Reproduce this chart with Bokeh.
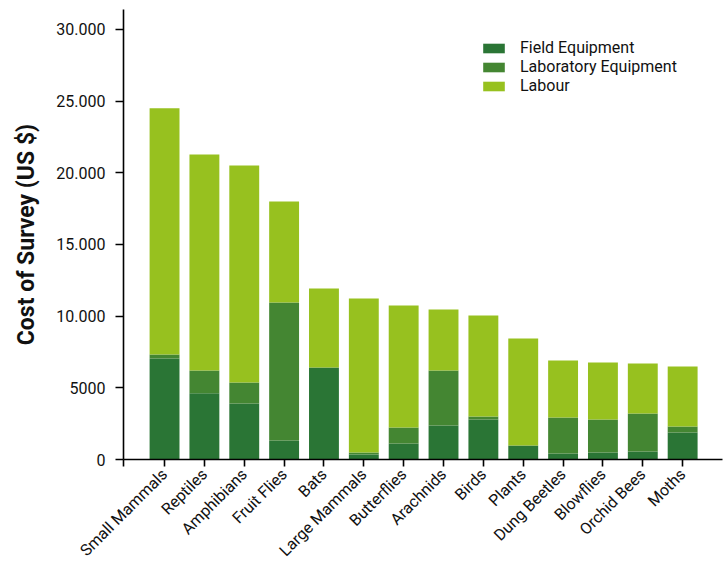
from bokeh.plotting import figure
from bokeh.models import ColumnDataSource, Range1d, FixedTicker
from bokeh.embed import file_html
from bokeh.resources import INLINE
import math

categories = ["Small Mammals", "Reptiles", "Amphibians", "Fruit Flies", "Bats",
              "Large Mammals", "Butterflies", "Arachnids", "Birds", "Plants",
              "Dung Beetles", "Blowflies", "Orchid Bees", "Moths"]
field_equipment = [7050, 4630, 3910, 1330, 6420, 350, 1120, 2370, 2790, 980, 420, 490, 560, 1880]
lab_equipment = [280, 1580, 1460, 9630, 0, 140, 1110, 3840, 210, 0, 2510, 2300, 2650, 420]
labour = [17170, 15070, 15150, 7040, 5510, 10740, 8520, 4260, 7050, 7460, 3980, 3980, 3490, 4190]
series = ["Field Equipment", "Laboratory Equipment", "Labour"]
colors = ["#2A7535", "#448632", "#97C11F"]
y_ticks = [0, 5000, 10000, 15000, 20000, 25000, 30000]
y_tick_labels = ["0", "5000", "10.000", "15.000", "20.000", "25.000", "30.000"]

xs = list(range(len(categories)))
source = ColumnDataSource(dict(x=xs, f=field_equipment, l=lab_equipment, b=labour))

x_start, x_end = -1.03, 14.0
p = figure(width=724, height=575, output_backend="svg", toolbar_location=None,
           x_range=Range1d(x_start, x_end), y_range=Range1d(0, 31395),
           min_border_left=123, min_border_top=9, min_border_right=2, min_border_bottom=116)

p.vbar_stack(["f", "l", "b"], x="x", width=0.75, color=colors, source=source,
             legend_label=series, line_width=0)

p.outline_line_color = None
p.grid.grid_line_color = None
p.background_fill_color = "white"

font = "Roboto"
# x axis
p.xaxis.ticker = FixedTicker(ticks=[x_start] + xs)
ov = {x_start: ""}
ov.update({i: c for i, c in zip(xs, categories)})
p.xaxis.major_label_overrides = ov
p.xaxis.major_label_orientation = math.pi / 4
p.xaxis.major_label_text_font = font
p.xaxis.major_label_text_font_size = "16px"
p.xaxis.major_label_text_color = "#111111"
p.xaxis.major_tick_out = 7
p.xaxis.major_tick_in = 0
p.xaxis.minor_tick_line_color = None
p.xaxis.axis_line_width = 1.6
p.xaxis.major_tick_line_width = 1.6
p.xaxis.major_label_standoff = 5

# y axis
p.yaxis.ticker = FixedTicker(ticks=y_ticks)
p.yaxis.major_label_overrides = {t: s for t, s in zip(y_ticks, y_tick_labels)}
p.yaxis.major_label_text_font = font
p.yaxis.major_label_text_font_size = "16px"
p.yaxis.major_label_text_color = "#111111"
p.yaxis.major_tick_out = 8
p.yaxis.major_tick_in = 0
p.yaxis.minor_tick_line_color = None
p.yaxis.axis_line_width = 1.6
p.yaxis.major_tick_line_width = 1.4
p.yaxis.major_label_standoff = 10
p.yaxis.axis_label = "Cost of Survey (US $)"
p.yaxis.axis_label_text_font = font
p.yaxis.axis_label_text_font_style = "bold"
p.yaxis.axis_label_text_font_size = "23px"
p.yaxis.axis_label_text_color = "#111111"
p.yaxis.axis_label_standoff = 13

# legend
lg = p.legend[0]
lg.location = (357, 364)
lg.border_line_color = None
lg.background_fill_alpha = 0
lg.padding = 0
lg.margin = 0
lg.glyph_width = 27
lg.glyph_height = 12
lg.label_standoff = 13
lg.spacing = 0
lg.label_text_font = font
lg.label_text_font_size = "16px"
lg.label_text_color = "#111111"
lg.label_height = 19

open("out.html", "w").write(file_html(p, INLINE))
